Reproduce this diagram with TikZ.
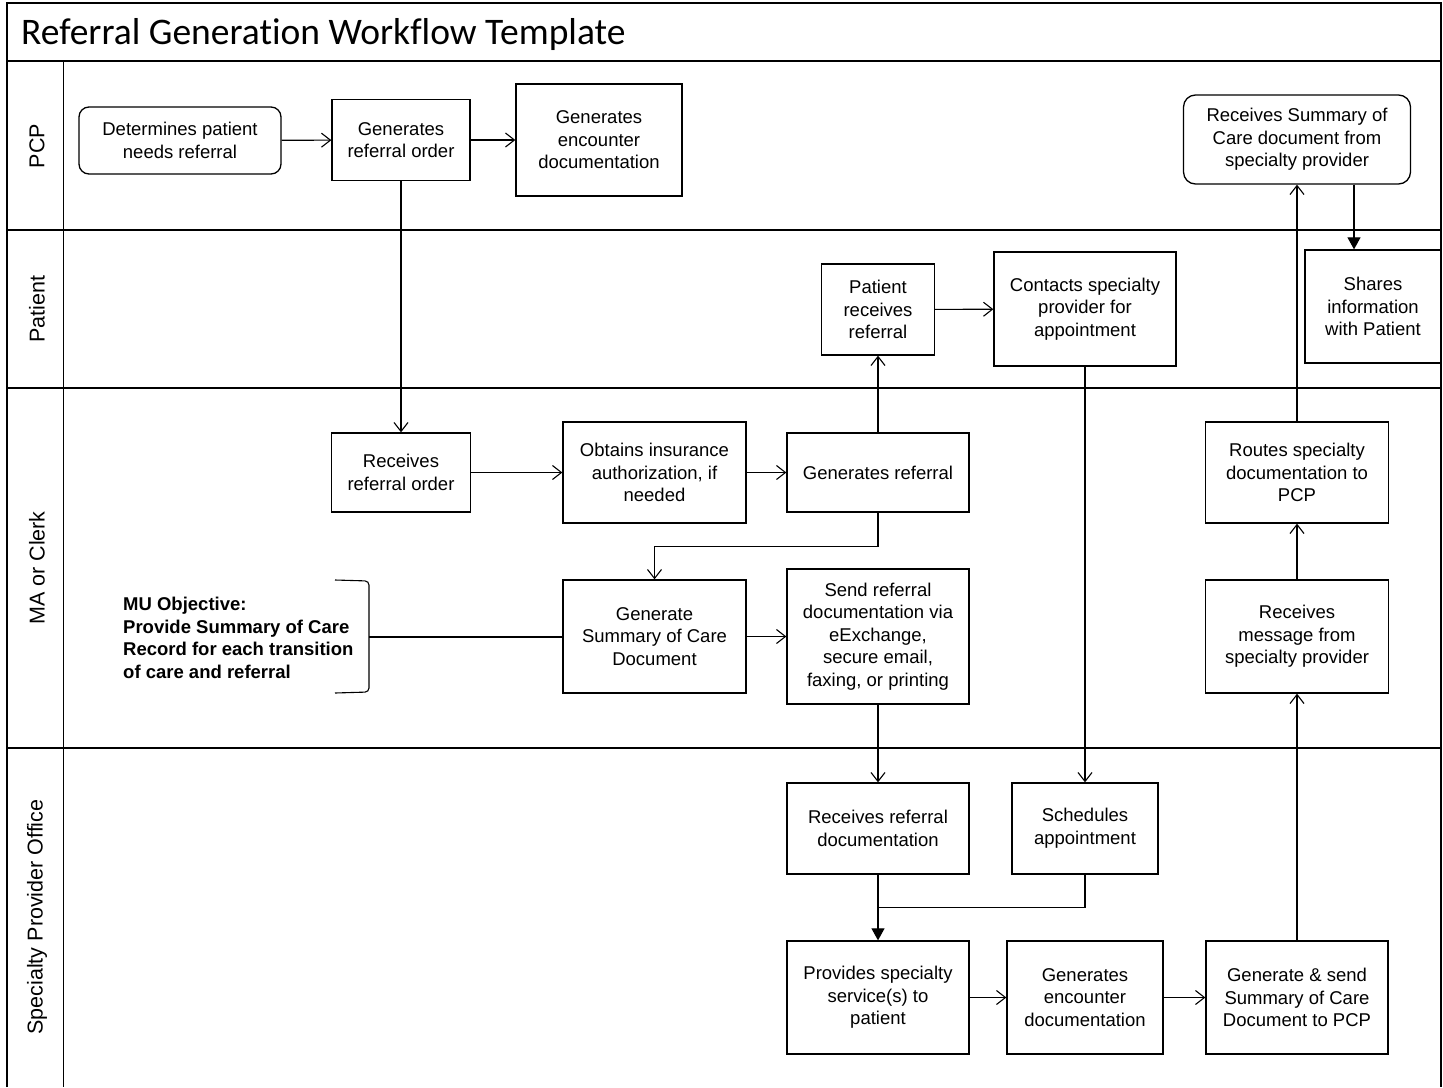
\documentclass[tikz,border=0pt]{standalone}
\usepackage{fontspec}
\setmainfont{Liberation Sans}
\newfontfamily\titlefont[Ligatures=NoCommon]{Carlito}
\usetikzlibrary{arrows.meta}

\begin{document}
\begin{tikzpicture}[x=1pt,y=-1pt,
    box/.style={draw, line width=1.3pt, align=center, inner sep=2pt,
        font=\fontsize{18.5}{22.6}\selectfont},
    lane/.style={font=\fontsize{21.5}{24}\selectfont, rotate=90},
    frame/.style={line width=1.6pt},
    conn/.style={line width=1.1pt},
    arr/.style={conn, -{Straight Barb[length=9pt,width=14pt]}},
    farr/.style={conn, -{Triangle[length=12pt,width=13pt]}}]
    \useasboundingbox (0,0) rectangle (1443,1087);

    % Draw the frame and the swim lanes
    \draw[frame] (7,1087) -- (7,3) -- (1441,3) -- (1441,1087);
    \draw[frame] (7,61) -- (1441,61);
    \draw[frame] (7,230) -- (1441,230);
    \draw[frame] (7,388) -- (1441,388);
    \draw[frame] (7,748) -- (1441,748);
    \draw[frame] (63.5,61) -- (63.5,1087);

    % Title and lane names
    \node[anchor=west, inner sep=0pt, font=\titlefont\fontsize{37.5}{42}\selectfont] (title) at (21,35) {Referral Generation Workflow Template};
    \node[lane] (lpcp) at (37,146) {PCP};
    \node[lane] (lpat) at (37,309) {Patient};
    \node[lane] (lma) at (37,568) {MA or Clerk};
    \node[lane] (lspec) at (37,917) {Specialty Provider Office};

    % PCP lane
    \node[box, rounded corners=10pt, minimum width=202, minimum height=67] (det) at (180,140.5) {Determines patient\\needs referral};
    \node[box, minimum width=138, minimum height=81] (genord) at (401,140) {Generates\\referral order};
    \node[box, minimum width=166, minimum height=112] (genenc) at (599,140) {Generates\\encounter\\documentation};
    \node[box, rounded corners=12pt, minimum width=227, minimum height=89] (recsum) at (1297,139.5) {Receives Summary of\\Care document from\\specialty provider};

    % Patient lane
    \node[box, minimum width=113, minimum height=91] (patrec) at (878,309.5) {Patient\\receives\\referral};
    \node[box, minimum width=182, minimum height=114] (contacts) at (1085,309) {Contacts specialty\\provider for\\appointment};
    \node[box, minimum width=136, minimum height=113] (shares) at (1373,306.5) {Shares\\information\\with Patient};

    % MA or Clerk lane
    \node[box, minimum width=139, minimum height=79] (recorder) at (401,472.5) {Receives\\referral order};
    \node[box, minimum width=183, minimum height=101] (obtains) at (654.5,472.5) {Obtains insurance\\authorization, if\\needed};
    \node[box, minimum width=182, minimum height=79] (genref) at (878,472.5) {Generates referral};
    \node[box, minimum width=183, minimum height=113] (gensum) at (654.5,636.5) {Generate\\Summary of Care\\Document};
    \node[box, minimum width=182, minimum height=135] (send) at (878,636.5) {Send referral\\documentation via\\eExchange,\\secure email,\\faxing, or printing};
    \node[box, minimum width=183, minimum height=101] (routes) at (1297,472.5) {Routes specialty\\documentation to\\PCP};
    \node[box, minimum width=183, minimum height=113] (recmsg) at (1297,636.5) {Receives\\message from\\specialty provider};
    \node[anchor=west, align=left, inner sep=0pt, font=\bfseries\fontsize{18.5}{22.6}\selectfont] (mu) at (123,638) {MU Objective:\\Provide Summary of Care\\Record for each transition\\of care and referral};
    \draw[conn, rounded corners=4pt] (335,580) -- (369,581) -- (369,692) -- (335,693);
    \coordinate (brk) at (369,637);

    % Specialty Provider Office lane
    \node[box, minimum width=182, minimum height=91] (recdoc) at (878,828.5) {Receives referral\\documentation};
    \node[box, minimum width=146, minimum height=91] (sched) at (1085,828.5) {Schedules\\appointment};
    \node[box, minimum width=182, minimum height=113] (provides) at (878,997.5) {Provides specialty\\service(s) to\\patient};
    \node[box, minimum width=156, minimum height=113] (genenc2) at (1085,997.5) {Generates\\encounter\\documentation};
    \node[box, minimum width=182, minimum height=113] (gensend) at (1297,997.5) {Generate \& send\\Summary of Care\\Document to PCP};

    % Draw the connectors
    \draw[arr] (det) -- (genord);
    \draw[arr] (genord) -- (genenc);
    \draw[arr] (genord) -- (recorder);
    \draw[arr] (recorder) -- (obtains);
    \draw[arr] (obtains) -- (genref);
    \draw[arr] (genref) -- (patrec);
    \draw[arr] (patrec) -- (contacts);
    \draw[arr] (contacts) -- (sched);
    \draw[arr] (genref.south) -- ++(0,34) -| (gensum.north);
    \draw[conn] (brk) -- (brk -| gensum.west);
    \draw[arr] (gensum) -- (send);
    \draw[arr] (send) -- (recdoc);
    \coordinate (join) at (recdoc.south |- 0,907.5);
    \draw[conn] (sched.south) |- (join);
    \draw[farr] (recdoc) -- (provides);
    \draw[arr] (provides) -- (genenc2);
    \draw[arr] (genenc2) -- (gensend);
    \draw[arr] (gensend) -- (recmsg);
    \draw[arr] (recmsg) -- (routes);
    \draw[arr] (routes) -- (recsum);
    \draw[farr] (recsum.south -| 1354,0) -- (shares.north -| 1354,0);
\end{tikzpicture}
\end{document}
